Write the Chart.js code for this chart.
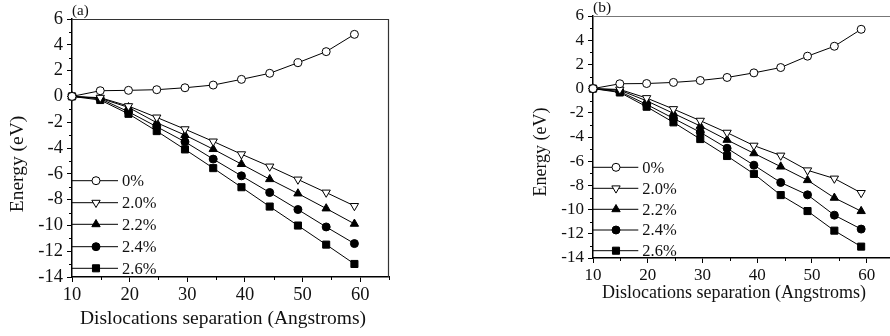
<!DOCTYPE html>
<html>
<head>
<meta charset="utf-8">
<script src="https://cdn.jsdelivr.net/npm/chart.js@4"></script>
<style>
  html, body { margin: 0; padding: 0; background: #fff; overflow: hidden; }
  #wrap { position: relative; width: 890px; height: 336px; overflow: hidden; }
  #boxA { position: absolute; left: 0; top: 0; width: 445px; height: 336px; }
  #boxB { position: absolute; left: 445px; top: 0; width: 455px; height: 336px; }
</style>
</head>
<body>
<div id="wrap">
  <div id="boxA"><canvas id="chartA"></canvas></div>
  <div id="boxB"><canvas id="chartB"></canvas></div>
</div>
<script>
// x values: dislocation separation (Angstroms)
const separation = [10, 14.9, 19.8, 24.7, 29.6, 34.5, 39.4, 44.3, 49.2, 54.1, 59.0];
const strainLabels = ['0%', '2.0%', '2.2%', '2.4%', '2.6%'];
const xTicks = [10, 20, 30, 40, 50, 60];
const yTicks = [-14, -12, -10, -8, -6, -4, -2, 0, 2, 4, 6];

// panel (a)
const energyA_00 = [0, 0.44, 0.47, 0.52, 0.67, 0.88, 1.32, 1.79, 2.61, 3.47, 4.81];
const energyA_20 = [0, -0.10, -0.75, -1.63, -2.54, -3.49, -4.48, -5.43, -6.44, -7.45, -8.49];
const energyA_22 = [0, -0.15, -0.85, -2.04, -3.00, -4.09, -5.25, -6.42, -7.53, -8.69, -9.88];
const energyA_24 = [0, -0.18, -1.19, -2.35, -3.52, -4.86, -6.16, -7.45, -8.77, -10.12, -11.41];
const energyA_26 = [0, -0.28, -1.35, -2.69, -4.11, -5.56, -7.04, -8.54, -10.01, -11.49, -12.99];

// panel (b)
const energyB_00 = [0, 0.40, 0.42, 0.51, 0.67, 0.92, 1.30, 1.74, 2.68, 3.50, 4.90];
const energyB_20 = [0, -0.07, -0.78, -1.69, -2.65, -3.64, -4.71, -5.53, -6.75, -7.43, -8.62];
const energyB_22 = [0, -0.13, -1.01, -2.05, -3.09, -4.24, -5.35, -6.45, -7.57, -9.03, -10.13];
const energyB_24 = [0, -0.24, -1.31, -2.46, -3.61, -4.93, -6.33, -7.76, -8.78, -10.46, -11.61];
const energyB_26 = [0, -0.32, -1.50, -2.79, -4.17, -5.57, -7.05, -8.80, -10.12, -11.74, -13.06];

const SERIF = "'Liberation Serif', 'Times New Roman', serif";

// marker look for each strain
const markers = [
  { pointStyle: 'circle', rotation: 0, fill: '#fff', radius: 4 },
  { pointStyle: 'triangle', rotation: 180, fill: '#fff', radius: 4.8 },
  { pointStyle: 'triangle', rotation: 0, fill: '#000', radius: 4.8 },
  { pointStyle: 'circle', rotation: 0, fill: '#000', radius: 4 },
  { pointStyle: 'rect', rotation: 0, fill: '#000', radius: 5 }
];

function makeDatasets(series) {
  return series.map((vals, i) => ({
    label: strainLabels[i],
    data: vals.map((v, j) => ({ x: separation[j], y: v })),
    borderColor: '#000',
    borderWidth: 1,
    tension: 0,
    pointStyle: markers[i].pointStyle,
    pointRotation: markers[i].rotation,
    pointRadius: markers[i].radius,
    pointBackgroundColor: markers[i].fill,
    pointBorderColor: '#000',
    pointBorderWidth: 1,
    clip: false
  }));
}

function drawMarker(ctx, m, x, y) {
  ctx.save();
  ctx.fillStyle = m.fill;
  ctx.strokeStyle = '#000';
  ctx.lineWidth = 1;
  Chart.helpers.drawPoint(ctx, { pointStyle: m.pointStyle, rotation: m.rotation, radius: m.radius, borderWidth: 1 }, x, y);
  ctx.restore();
}

// minor ticks, frame, panel label, axis titles and inner legend
const decor = {
  id: 'decor',
  afterDatasetsDraw(chart, args, o) {
    const ctx = chart.ctx;
    const a = chart.chartArea;
    const xs = chart.scales.x, ys = chart.scales.y;
    ctx.save();
    // top and right frame
    ctx.strokeStyle = o.frameColor;
    ctx.lineWidth = 1.2;
    ctx.beginPath();
    ctx.moveTo(a.left, a.top + 0.5);
    ctx.lineTo(a.right, a.top + 0.5);
    ctx.moveTo(a.right - 0.5, a.top);
    ctx.lineTo(a.right - 0.5, a.bottom);
    ctx.stroke();
    // minor ticks
    ctx.strokeStyle = '#000';
    ctx.lineWidth = 1;
    ctx.beginPath();
    for (let v = -13; v <= 5; v += 2) {
      const p = Math.round(ys.getPixelForValue(v)) + 0.5;
      ctx.moveTo(a.left - 3, p);
      ctx.lineTo(a.left, p);
    }
    for (let v = 15; v <= 65; v += 10) {
      const p = Math.round(xs.getPixelForValue(v)) + 0.5;
      ctx.moveTo(p, a.bottom);
      ctx.lineTo(p, a.bottom + 3);
    }
    ctx.stroke();
    // panel label
    ctx.fillStyle = '#111';
    ctx.textBaseline = 'middle';
    ctx.textAlign = 'left';
    ctx.font = o.labelFont + 'px ' + SERIF;
    ctx.fillText(o.label, o.labelX, o.labelY);
    // axis titles
    ctx.font = o.titleFont + 'px ' + SERIF;
    ctx.textAlign = 'center';
    ctx.fillText('Dislocations separation (Angstroms)', o.xTitleX, o.xTitleY);
    ctx.save();
    ctx.translate(o.yTitleX, o.yTitleY);
    ctx.rotate(-Math.PI / 2);
    ctx.fillText('Energy (eV)', 0, 0);
    ctx.restore();
    // legend
    const lg = o.legend;
    ctx.font = lg.font + 'px ' + SERIF;
    ctx.textAlign = 'left';
    strainLabels.forEach((lab, i) => {
      const y = lg.rows[i];
      ctx.strokeStyle = '#000';
      ctx.beginPath();
      ctx.moveTo(a.left, y);
      ctx.lineTo(lg.x1, y);
      ctx.stroke();
      drawMarker(ctx, markers[i], lg.mx, y);
      ctx.fillStyle = '#111';
      ctx.fillText(lab, lg.tx, y + 1);
    });
    ctx.restore();
  }
};

function makeChart(id, series, p) {
  return new Chart(document.getElementById(id), {
    type: 'line',
    data: { datasets: makeDatasets(series) },
    plugins: [decor],
    options: {
      responsive: true,
      maintainAspectRatio: false,
      animation: false,
      layout: { padding: p.padding },
      plugins: {
        legend: { display: false },
        tooltip: { enabled: false },
        decor: p.decor
      },
      scales: {
        x: {
          type: 'linear',
          min: 10,
          max: 65,
          afterFit: s => { s.height = p.xHeight; },
          afterBuildTicks: s => { s.ticks = xTicks.map(v => ({ value: v })); },
          ticks: { color: '#111', padding: 2, font: { family: SERIF, size: p.tickFont } },
          grid: { drawOnChartArea: false, drawTicks: true, tickLength: 5, color: '#000' },
          border: { display: true, color: '#000', width: 1.5 }
        },
        y: {
          type: 'linear',
          min: -14,
          max: 6,
          afterFit: s => { s.width = p.yWidth; },
          afterBuildTicks: s => { s.ticks = yTicks.map(v => ({ value: v })); },
          ticks: { color: '#111', padding: 4, font: { family: SERIF, size: p.tickFont } },
          grid: { drawOnChartArea: false, drawTicks: true, tickLength: 5, color: '#000' },
          border: { display: true, color: '#000', width: 1.5 }
        }
      }
    }
  });
}

makeChart('chartA', [energyA_00, energyA_20, energyA_22, energyA_24, energyA_26], {
  padding: { left: 0, top: 19, right: 56, bottom: 0 },
  xHeight: 59,
  yWidth: 72,
  tickFont: 18.5,
  decor: {
    frameColor: '#333',
    label: '(a)', labelX: 72, labelY: 11, labelFont: 15,
    titleFont: 19.5, xTitleX: 223, xTitleY: 319, yTitleX: 18, yTitleY: 164,
    legend: { font: 16.5, x1: 118, mx: 96, tx: 122, rows: [180.7, 202.7, 224.3, 246.7, 268.3] }
  }
});

makeChart('chartB', [energyB_00, energyB_20, energyB_22, energyB_24, energyB_26], {
  padding: { left: 86, top: 16, right: 4.3, bottom: 0 },
  xHeight: 78,
  yWidth: 62,
  tickFont: 17,
  decor: {
    frameColor: '#777',
    label: '(b)', labelX: 148, labelY: 8, labelFont: 15.5,
    titleFont: 18, xTitleX: 289, xTitleY: 293, yTitleX: 96.7, yTitleY: 152,
    legend: { font: 16.5, x1: 193.3, mx: 171, tx: 197.3, rows: [167.3, 188.3, 209.3, 230, 250.7] }
  }
});
</script>
</body>
</html>
